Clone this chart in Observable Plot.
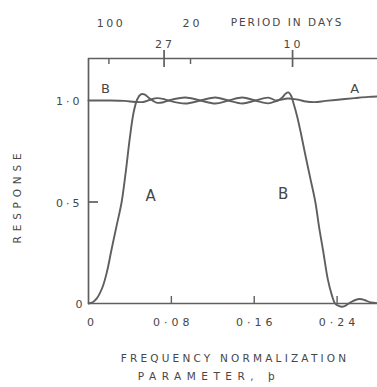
<!DOCTYPE html>
<html><head><meta charset="utf-8">
<script src="https://cdn.jsdelivr.net/npm/d3@7"></script>
<script src="https://cdn.jsdelivr.net/npm/@observablehq/plot@0.6"></script>
<style>body{margin:0;background:#fff}</style>
</head><body><div id="chart"></div>
<script>
// Curve A (high-pass response) : frequency parameter p, response
const pA = [0,0.004,0.008,0.0135,0.018,0.022,0.027,0.032,0.036,0.040,0.0435,0.047,0.0505,0.054,0.059,0.0655,0.071,0.077,0.0935,0.108,0.1225,0.135,0.1485,0.161,0.1735,0.183,0.192,0.2015,0.21,0.218,0.229,0.243,0.257,0.27,0.279];
const rA = [0,0.006,0.025,0.08,0.16,0.26,0.38,0.50,0.65,0.82,0.94,1.005,1.03,1.03,1.01,0.99,0.99,1.0,1.015,1.0,0.985,1.0,1.015,1.0,0.986,1.0,1.01,1.005,0.995,0.992,0.998,1.005,1.012,1.018,1.02];
// Curve B (low-pass response)
const pB = [0,0.02,0.035,0.045,0.053,0.06,0.0665,0.072,0.077,0.0935,0.108,0.1225,0.135,0.1485,0.161,0.1735,0.182,0.187,0.1905,0.193,0.1955,0.198,0.2015,0.205,0.209,0.214,0.219,0.2225,0.2265,0.231,0.235,0.238,0.2415,0.245,0.249,0.2525,0.257,0.262,0.267,0.2725,0.279];
const rB = [1.0,1.0,0.998,0.993,0.993,1.005,1.012,1.008,1.0,0.985,1.0,1.015,1.0,0.985,1.0,1.014,1.0,1.015,1.035,1.04,1.025,0.985,0.92,0.84,0.74,0.62,0.50,0.38,0.26,0.12,0.04,0.0,-0.012,-0.016,-0.008,0.004,0.016,0.022,0.016,0.005,0.002];

const xTicks = [0, 0.08, 0.16, 0.24];
const xTickLabels = ["0", "0·08", "0·16", "0·24"];
const yTicks = [0, 0.5, 1.0];
const yTickLabels = ["0", "0·5", "1·0"];
const periodsUpper = [100, 20];   // labels on the upper row, short ticks
const periodsLower = [27, 10];    // labels on the lower row, long ticks
const periodFactor = 1.97;        // p = periodFactor / period
const curveLabels = [
  {text: "B", p: 0.0164, r: 1.06, size: 13},
  {text: "A", p: 0.257, r: 1.06, size: 13},
  {text: "A", p: 0.060, r: 0.527, size: 15},
  {text: "B", p: 0.188, r: 0.537, size: 15}
];
const yTop = 1.207;

const A = pA.map((p, i) => ({p, r: rA[i]}));
const B = pB.map((p, i) => ({p, r: rB[i]}));
const ink = "#5f5f5f", txt = "#474747";
const mid = {textAnchor: "middle", lineAnchor: "middle", fill: txt};

const chart = Plot.plot({
  width: 377, height: 387,
  marginLeft: 88, marginRight: 0, marginTop: 58, marginBottom: 84,
  x: {domain: [0, 0.279], axis: null},
  y: {domain: [0, yTop], axis: null},
  style: {fontFamily: "DejaVu Sans", background: "#fff", overflow: "visible"},
  marks: [
    Plot.ruleX([0], {stroke: ink, strokeWidth: 1.7}),
    Plot.ruleY([0], {stroke: ink, strokeWidth: 1.7}),
    Plot.ruleY([yTop], {stroke: ink, strokeWidth: 1.7}),
    Plot.ruleX(xTicks.slice(1), {x: d => d, insetTop: 238, stroke: ink, strokeWidth: 1.4}),
    Plot.ruleY([0.5], {y: d => d, insetRight: 279, stroke: ink, strokeWidth: 1.7}),
    Plot.ruleX(periodsUpper, {x: d => periodFactor / d, insetBottom: 239, stroke: ink, strokeWidth: 1.4}),
    Plot.ruleX(periodsLower, {x: d => periodFactor / d, insetTop: -8, insetBottom: 236, stroke: ink, strokeWidth: 1.7}),
    Plot.line(A, {x: "p", y: "r", curve: "catmull-rom", stroke: ink, strokeWidth: 1.9}),
    Plot.line(B, {x: "p", y: "r", curve: "catmull-rom", stroke: ink, strokeWidth: 1.9}),
    Plot.text(xTicks, {x: d => d, y: 0, text: (d, i) => xTickLabels[i], dy: 19, dx: 2, fontSize: 11, fill: txt}),
    Plot.text(yTicks, {x: 0, y: d => d, text: (d, i) => yTickLabels[i], textAnchor: "end", dx: -6, dy: 1, fontSize: 11, fill: txt}),
    Plot.text(periodsLower, {x: d => periodFactor / d, y: yTop, text: d => String(d), dy: -14, dx: 1, fontSize: 11, fill: txt}),
    Plot.text(periodsUpper, {x: d => periodFactor / d, y: yTop, text: d => String(d), dy: -35, dx: 2, fontSize: 11, fill: txt}),
    Plot.text(["PERIOD IN DAYS"], {frameAnchor: "top", dx: 54, dy: -36, fontSize: 10.5, ...mid}),
    Plot.text(["RESPONSE"], {frameAnchor: "left", dx: -71, dy: 15, rotate: -90, fontSize: 10.5, ...mid}),
    Plot.text(["FREQUENCY NORMALIZATION"], {frameAnchor: "bottom", dx: 2, dy: 55, fontSize: 10.5, ...mid}),
    Plot.text(["PARAMETER, þ"], {frameAnchor: "bottom", dx: -24, dy: 73, fontSize: 10.5, ...mid}),
    Plot.text(curveLabels, {x: "p", y: "r", text: "text", fontSize: d => d.size, fill: txt})
  ]
});

const spacing = new Map([
  ["0·08", 4], ["0·16", 4], ["0·24", 4], ["0·5", 3], ["1·0", 3],
  ["100", 2.5], ["20", 3], ["27", 3], ["10", 3],
  ["PERIOD IN DAYS", 2], ["RESPONSE", 4.8],
  ["FREQUENCY NORMALIZATION", 3.2], ["PARAMETER, þ", 5.5]
]);
chart.querySelectorAll("text").forEach(t => {
  const s = spacing.get(t.textContent);
  if (s) t.setAttribute("letter-spacing", s);
});
document.getElementById("chart").appendChild(chart);
</script>
</body></html>
